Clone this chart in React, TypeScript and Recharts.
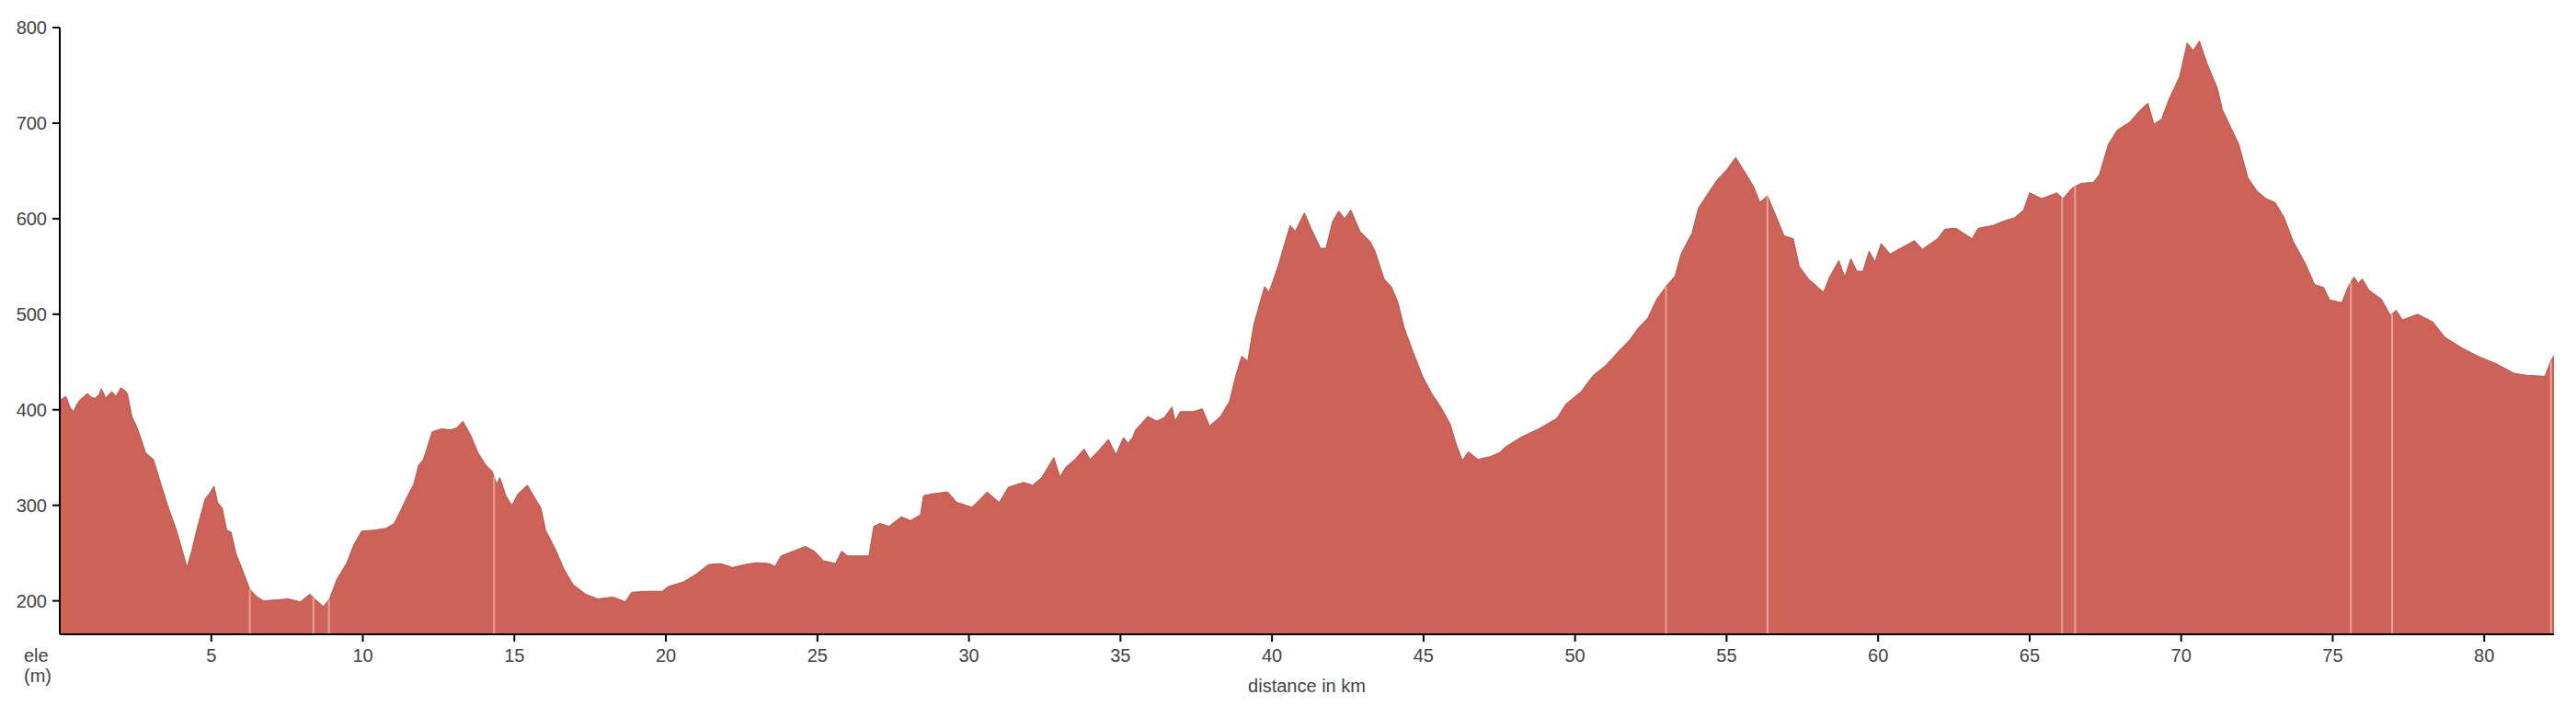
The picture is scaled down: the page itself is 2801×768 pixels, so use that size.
import React from "react";
import { AreaChart, Area, XAxis, YAxis, ReferenceLine } from "recharts";

const dist: number[] = [
  0.0, 0.05, 0.2, 0.35, 0.46, 0.55, 0.66, 0.8, 0.91, 1.05, 1.16, 1.3, 1.37, 1.52, 1.62, 1.72, 1.85, 2.02, 2.15, 2.23,
  2.38, 2.53, 2.7, 2.83, 3.09, 3.34, 3.59, 3.85, 4.05, 4.2, 4.35, 4.55, 4.8, 4.95, 5.09, 5.21, 5.36, 5.51, 5.65, 5.82,
  6.02, 6.27, 6.52, 6.73, 7.13, 7.54, 7.94, 8.25, 8.45, 8.7, 8.9, 9.15, 9.46, 9.71, 9.96, 10.37, 10.77, 11.03, 11.18, 11.48,
  11.68, 11.84, 12.0, 12.29, 12.6, 12.9, 13.1, 13.3, 13.55, 13.8, 14.06, 14.26, 14.42, 14.52, 14.72, 14.92, 15.12, 15.43, 15.63, 15.88,
  16.03, 16.34, 16.64, 16.94, 17.35, 17.75, 18.26, 18.66, 18.87, 19.37, 19.88, 20.08, 20.59, 21.0, 21.4, 21.8, 22.2, 22.6, 23.0, 23.4,
  23.6, 23.8, 24.2, 24.6, 24.9, 25.2, 25.6, 25.8, 25.99, 26.35, 26.7, 26.86, 27.06, 27.36, 27.77, 28.07, 28.4, 28.5, 28.78, 29.3,
  29.6, 30.1, 30.6, 31.0, 31.3, 31.8, 32.1, 32.4, 32.8, 33.0, 33.2, 33.5, 33.8, 34.0, 34.3, 34.6, 34.85, 35.1, 35.25, 35.4,
  35.5, 35.9, 36.2, 36.45, 36.7, 36.8, 36.97, 37.4, 37.7, 37.94, 38.3, 38.6, 38.8, 39.0, 39.2, 39.4, 39.6, 39.76, 39.9, 40.2,
  40.4, 40.6, 40.77, 41.07, 41.3, 41.6, 41.78, 42.0, 42.2, 42.4, 42.6, 42.9, 43.24, 43.4, 43.7, 43.95, 44.16, 44.36, 44.66, 44.97,
  45.27, 45.57, 45.88, 46.08, 46.28, 46.48, 46.8, 47.2, 47.5, 47.7, 48.2, 48.8, 49.4, 49.7, 50.2, 50.6, 51.0, 51.4, 51.8, 52.1,
  52.4, 52.7, 53.05, 53.3, 53.5, 53.86, 54.07, 54.4, 54.7, 55.0, 55.3, 55.6, 55.9, 56.1, 56.35, 56.6, 56.9, 57.2, 57.4, 57.7,
  58.2, 58.4, 58.7, 58.9, 59.1, 59.3, 59.5, 59.7, 59.9, 60.1, 60.4, 60.85, 61.2, 61.46, 61.96, 62.2, 62.57, 63.1, 63.3, 63.8,
  64.1, 64.5, 64.8, 65.0, 65.4, 65.9, 66.1, 66.4, 66.7, 67.1, 67.3, 67.6, 67.9, 68.3, 68.6, 68.9, 69.1, 69.35, 69.6, 69.95,
  70.2, 70.4, 70.6, 70.86, 71.2, 71.36, 71.9, 72.2, 72.5, 72.8, 73.1, 73.4, 73.7, 74.1, 74.4, 74.7, 74.9, 75.3, 75.5, 75.7,
  75.85, 75.97, 76.2, 76.6, 76.9, 77.1, 77.3, 77.8, 78.3, 78.7, 79.3, 79.8, 80.4, 81.0, 81.4, 82.0, 82.2, 82.3,
];

const ele: number[] = [
  408, 411, 414, 402, 398, 405, 410, 414, 417, 413, 412, 416, 422, 412, 416, 419, 414, 423, 420, 417,
  393, 383, 368, 355, 348, 322, 297, 274, 252, 235, 252, 278, 307, 313, 320, 303, 297, 274, 272, 249,
  233, 212, 204, 200, 201, 202, 199, 207, 201, 194, 202, 223, 239, 259, 273, 274, 276, 281, 290, 310,
  322, 342, 348, 377, 380, 379, 381, 388, 374, 355, 342, 336, 322, 329, 310, 300, 312, 321, 310, 297,
  274, 255, 233, 217, 207, 202, 204, 199, 209, 210, 210, 215, 220, 228, 238, 239, 235, 238, 240, 239,
  236, 247, 252, 257, 252, 242, 239, 252, 247, 247, 247, 278, 281, 278, 288, 284, 290, 310, 312, 314,
  303, 298, 314, 303, 319, 324, 321, 329, 350, 330, 340, 348, 359, 348, 358, 369, 353, 371, 365, 371,
  379, 393, 388, 392, 403, 388, 398, 398, 401, 383, 393, 409, 435, 456, 451, 489, 512, 529, 523, 550,
  572, 593, 587, 606, 589, 569, 569, 597, 608, 600, 609, 587, 576, 566, 537, 528, 512, 486, 460, 435,
  417, 403, 385, 364, 347, 356, 348, 351, 355, 361, 371, 380, 391, 406, 419, 436, 446, 460, 473, 486,
  496, 516, 531, 540, 563, 585, 611, 627, 641, 651, 664, 649, 633, 617, 624, 605, 582, 579, 550, 537,
  523, 539, 556, 539, 558, 545, 545, 566, 555, 574, 563, 571, 577, 568, 579, 589, 590, 579, 590, 593,
  597, 601, 609, 627, 621, 627, 621, 632, 637, 638, 646, 678, 693, 701, 712, 721, 699, 704, 725, 749,
  784, 776, 786, 762, 736, 714, 678, 643, 629, 621, 617, 601, 576, 553, 531, 528, 515, 512, 528, 539,
  532, 537, 525, 516, 499, 504, 494, 500, 492, 476, 464, 456, 448, 438, 436, 435, 451, 457,
];

const xTicks: number[] = [5, 10, 15, 20, 25, 30, 35, 40, 45, 50, 55, 60, 65, 70, 75, 80];
const yTicks: number[] = [200, 300, 400, 500, 600, 700, 800];
const gapKm: number[] = [6.27, 8.37, 8.88, 14.33, 53.0, 56.35, 66.07, 66.5, 75.6, 76.96, 82.2];

const data = dist.map((d, i) => ({ dist: d, ele: ele[i] }));

function eleAt(km: number): number {
  for (let i = 1; i < dist.length; i++) {
    if (dist[i] >= km) {
      const t = (km - dist[i - 1]) / (dist[i] - dist[i - 1]);
      return ele[i - 1] + t * (ele[i] - ele[i - 1]);
    }
  }
  return ele[ele.length - 1];
}

const FONT = "'Liberation Sans', Arial, sans-serif";
const tickStyle = { fill: "#444", fontSize: 20, fontFamily: FONT };

export default function App() {
  return (
    <div style={{ position: "relative", width: 2785, height: 752 }}>
      <AreaChart width={2785} height={752} data={data} margin={{ top: 22, right: 16, left: 0, bottom: 0 }}>
        <XAxis
          dataKey="dist"
          type="number"
          domain={[0, 82.3]}
          ticks={xTicks}
          allowDataOverflow
          height={70}
          tickSize={8}
          tickMargin={8}
          tick={tickStyle}
          axisLine={{ stroke: "#000", strokeWidth: 2 }}
          tickLine={{ stroke: "#000", strokeWidth: 2 }}
          label={{ value: "distance in km", position: "insideBottom", offset: 7, fill: "#444", fontSize: 20, fontFamily: FONT }}
        />
        <YAxis
          type="number"
          domain={[165, 800]}
          ticks={yTicks}
          allowDataOverflow
          width={57}
          tickSize={8}
          tickMargin={6}
          tick={tickStyle}
          axisLine={{ stroke: "#000", strokeWidth: 2 }}
          tickLine={{ stroke: "#000", strokeWidth: 2 }}
        />
        <Area
          type="linear"
          dataKey="ele"
          fill="#cd6258"
          fillOpacity={1}
          stroke="#b4574f"
          strokeWidth={1}
          dot={false}
          activeDot={false}
          isAnimationActive={false}
        />
        {gapKm.map((g) => (
          <ReferenceLine
            key={g}
            segment={[{ x: g, y: 165 }, { x: g, y: eleAt(g) }]}
            stroke="#e9a197"
            strokeWidth={2}
          />
        ))}
      </AreaChart>
      <div
        style={{
          position: "absolute",
          left: 18,
          top: 694,
          fontFamily: FONT,
          fontSize: 20,
          lineHeight: "22px",
          color: "#444",
        }}
      >
        ele
        <br />
        (m)
      </div>
    </div>
  );
}
